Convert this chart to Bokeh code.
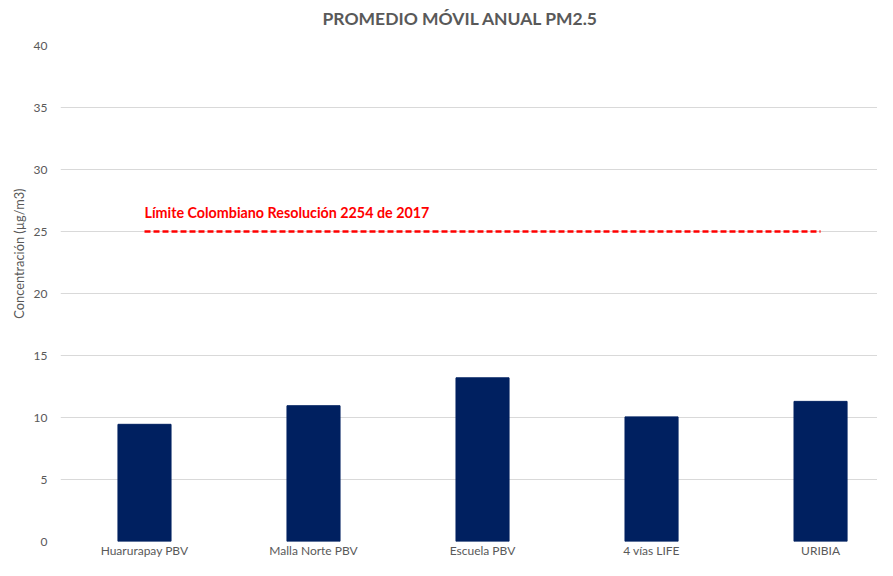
from bokeh.plotting import figure
from bokeh.models import Range1d, FixedTicker, Label, SingleIntervalTicker, Title
from bokeh.embed import file_html
from bokeh.resources import INLINE

# ---- data ----
categories = ["Huarurapay PBV", "Malla Norte PBV", "Escuela PBV", "4 vías LIFE", "URIBIA"]
values = [9.45, 10.95, 13.2, 10.05, 11.3]
limit_value = 25
limit_text = "Límite Colombiano Resolución 2254 de 2017"
title_text = "PROMEDIO MÓVIL ANUAL PM2.5"
y_label = "Concentración (µg/m3)"
y_max = 40
y_step = 5

FONT = "Lato"
GREY = "#595959"
positions = list(range(len(categories)))

p = figure(width=877, height=560, output_backend="svg", toolbar_location=None,
           x_range=Range1d(-0.497, 4.337), y_range=Range1d(0, y_max),
           min_border_left=60, min_border_right=0, min_border_top=45,
           min_border_bottom=5)
p.outline_line_color = None
p.background_fill_color = "white"
p.border_fill_color = "white"

p.vbar(x=positions, top=values, width=0.314, bottom=0,
       fill_color="#002060", line_color="#002060")

p.line(x=[positions[0], positions[-1]], y=[limit_value, limit_value],
       line_color="#FF0000", line_width=2.6, line_dash="6 3")

p.add_layout(Label(x=positions[0], y=limit_value, y_offset=19, text=limit_text,
                   text_color="#FF0000", text_font=FONT, text_font_style="bold",
                   text_font_size="14.3px", text_baseline="alphabetic", text_align="left"))

# spacer between title and plot area
p.add_layout(Title(text=" ", text_font_size="2px", standoff=12), "above")

title = Title(text=title_text, align="left", offset=262, standoff=0,
              vertical_align="middle",
              text_color=GREY, text_font=FONT, text_font_style="bold",
              text_font_size="17.5px")
p.add_layout(title, "above")

ylab = Title(text=y_label, align="right", offset=143, standoff=8,
             text_color=GREY, text_font=FONT, text_font_style="normal",
             text_font_size="12.8px")
p.add_layout(ylab, "left")

# axes
p.xaxis.ticker = FixedTicker(ticks=positions)
p.xaxis.major_label_overrides = {i: c for i, c in zip(positions, categories)}
p.yaxis.ticker = SingleIntervalTicker(interval=y_step)
for ax in (p.xaxis[0], p.yaxis[0]):
    ax.axis_line_color = None
    ax.major_tick_line_color = None
    ax.minor_tick_line_color = None
    ax.major_tick_out = 0
    ax.major_tick_in = 0
    ax.minor_tick_out = 0
    ax.minor_tick_in = 0
    ax.major_label_text_color = GREY
    ax.major_label_text_font = FONT
    ax.major_label_text_font_size = "12px"
p.xaxis.major_label_standoff = 1
p.yaxis.major_label_standoff = 13

p.xgrid.grid_line_color = None
p.ygrid.grid_line_color = "#D9D9D9"
p.ygrid.grid_line_width = 1

open("out.html", "w").write(file_html(p, INLINE))
